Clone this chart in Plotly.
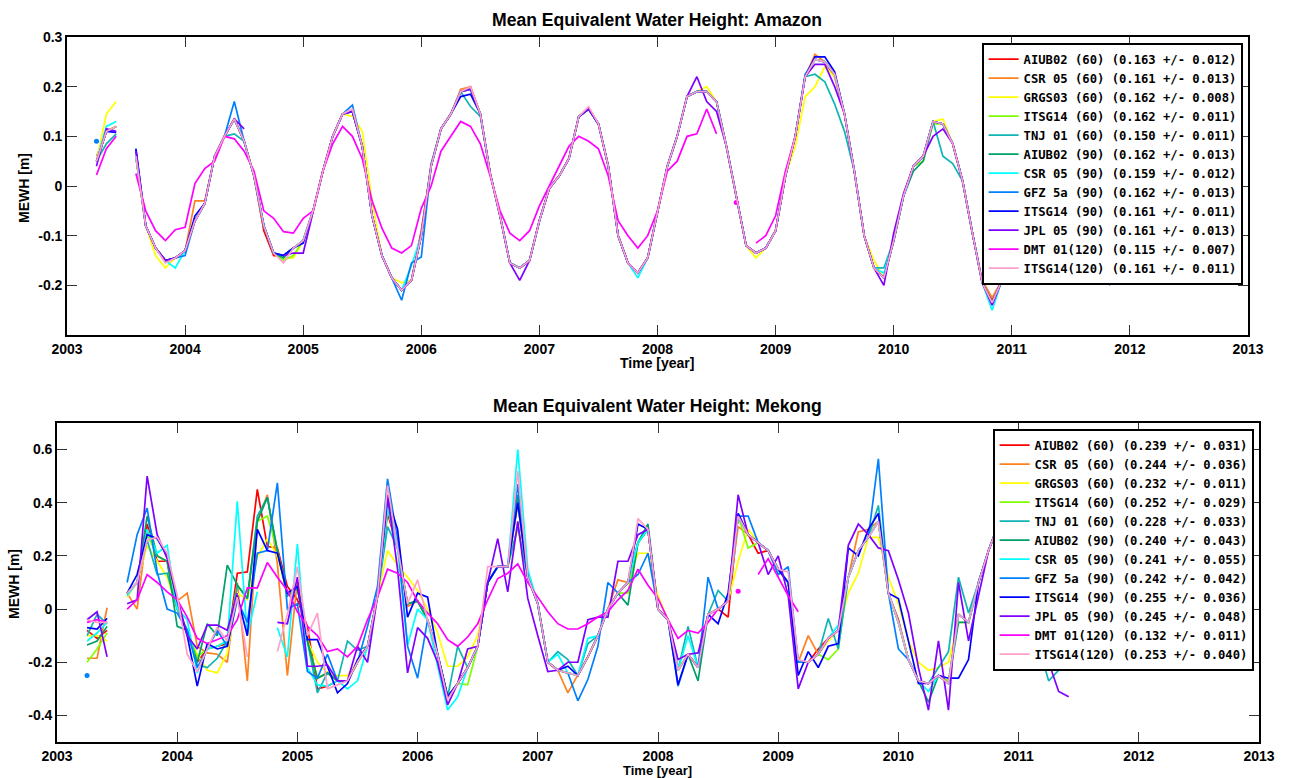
import plotly.graph_objects as go

W, H = 1290, 778

# month index counted from Jan 2003 (k=3 -> Apr 2003 ... k=106 -> Nov 2011)
months = list(range(3, 107))
years = [2003 + m / 12 for m in months]

solutions = ['AIUB02 (60)', 'CSR 05 (60)', 'GRGS03 (60)', 'ITSG14 (60)', 'TNJ 01 (60)',
             'AIUB02 (90)', 'CSR 05 (90)', 'GFZ 5a (90)', 'ITSG14 (90)', 'JPL 05 (90)',
             'DMT 01(120)', 'ITSG14(120)']
colors = ['#ff0000', '#ff8020', '#ffff00', '#80ff00', '#10b4b4', '#00a068',
          '#00ffff', '#0080ff', '#0000ff', '#8000ff', '#ff00ff', '#ffa0c8']

amazon_stats = ['(0.163 +/- 0.012)', '(0.161 +/- 0.013)', '(0.162 +/- 0.008)', '(0.162 +/- 0.011)',
                '(0.150 +/- 0.011)', '(0.162 +/- 0.013)', '(0.159 +/- 0.012)', '(0.162 +/- 0.013)',
                '(0.161 +/- 0.011)', '(0.161 +/- 0.013)', '(0.115 +/- 0.007)', '(0.161 +/- 0.011)']
mekong_stats = ['(0.239 +/- 0.031)', '(0.244 +/- 0.036)', '(0.232 +/- 0.011)', '(0.252 +/- 0.029)',
                '(0.228 +/- 0.033)', '(0.240 +/- 0.043)', '(0.241 +/- 0.055)', '(0.242 +/- 0.042)',
                '(0.255 +/- 0.036)', '(0.245 +/- 0.048)', '(0.132 +/- 0.011)', '(0.253 +/- 0.040)']

# ---------------- Amazon ----------------
amazon_common = [
    0.05, 0.11, 0.12, None, 0.06, -0.08, -0.125, -0.15, -0.145, -0.13,      # k3-12
    -0.07, -0.035, 0.06, 0.10, 0.135, 0.09, 0.02, -0.08, -0.135, -0.14,     # k13-22
    -0.125, -0.11, -0.05, 0.03, 0.10, 0.145, 0.15, 0.08, -0.06, -0.14,      # k23-32
    -0.185, -0.21, -0.19, -0.10, 0.04, 0.115, 0.145, 0.19, 0.195, 0.145,    # k33-42
    0.025, -0.06, -0.155, -0.165, -0.15, -0.07, -0.005, 0.02, 0.055, 0.14,  # k43-52
    0.155, 0.125, 0.04, -0.10, -0.155, -0.175, -0.145, -0.05, 0.04, 0.10,   # k53-62
    0.18, 0.19, 0.19, 0.17, 0.08, -0.02, -0.12, -0.135, -0.125, -0.09,      # k63-72
    0.02, 0.10, 0.22, 0.255, 0.25, 0.225, 0.145, 0.03, -0.10, -0.165,       # k73-82
    -0.185, -0.11, -0.02, 0.04, 0.06, 0.13, 0.125, 0.085, 0.01, -0.095,     # k83-92
    -0.195, -0.235, -0.19, -0.12, -0.02, 0.08, 0.17, 0.22, 0.22, 0.13,      # k93-102
    0.02, -0.10, -0.17, None,                                               # k103-106
]
amazon_own = [
    {20: -0.09, 21: -0.14, 22: -0.14, 36: -0.09, 41: 0.20, 78: 0.22, 94: -0.23},
    {3: 0.06, 13: -0.03, 14: -0.03, 40: 0.195, 41: 0.20, 76: 0.265, 93: -0.19, 94: -0.225},
    {4: 0.145, 5: 0.17, 9: -0.14, 10: -0.165, 22: -0.145, 23: -0.145, 29: 0.14, 30: 0.11,
     31: -0.03, 34: -0.195, 65: 0.20, 70: -0.145, 74: 0.08, 75: 0.18, 76: 0.20, 77: 0.24,
     78: 0.22, 82: -0.15, 89: 0.135, 105: -0.18},
    {22: -0.15, 23: -0.14, 87: 0.05, 88: 0.125},
    {4: 0.085, 5: 0.105, 17: 0.105, 41: 0.16, 42: 0.14, 76: 0.225, 77: 0.21, 78: 0.165,
     79: 0.11, 83: -0.165, 89: 0.06, 90: 0.045},
    {22: -0.145, 37: 0.045, 86: 0.03, 87: 0.05},
    {4: 0.12, 5: 0.13, 11: -0.165, 35: -0.16, 58: -0.185, 83: -0.175, 94: -0.25},
    {3: 0.09, 4: None, 5: None, 7: 0.075, 12: -0.14, 17: 0.17, 29: 0.163, 34: -0.23,
     35: -0.155, 36: -0.143, 75: 0.225},
    {4: 0.11, 5: 0.108, 7: 0.075, 13: -0.06, 24: -0.115, 40: 0.18, 41: 0.185, 64: 0.19,
     76: 0.26, 77: 0.26, 78: 0.23},
    {3: 0.04, 4: 0.115, 5: 0.11, 7: 0.07, 18: 0.115, 19: None, 20: None, 21: None,
     23: -0.135, 24: -0.135, 46: -0.19, 64: 0.22, 65: 0.17, 66: 0.15, 76: 0.245, 77: 0.245,
     78: 0.20, 83: -0.20, 84: -0.095, 85: -0.015, 88: 0.10, 89: 0.115, 94: -0.24, 106: -0.20},
    None,
    {10: -0.155, 22: -0.155, 29: 0.155, 41: 0.20, 53: 0.16},
]
amazon_dmt = [
    0.022, 0.075, 0.10, None, 0.025, -0.05, -0.09, -0.11, -0.088, -0.083,
    0.005, 0.035, 0.05, 0.10, 0.095, 0.07, 0.03, -0.05, -0.065, -0.092,
    -0.095, -0.065, -0.05, 0.03, 0.085, 0.12, 0.10, 0.055, -0.03, -0.085,
    -0.125, -0.135, -0.12, -0.045, 0.0, 0.07, 0.10, 0.13, 0.12, 0.085,
    0.02, -0.05, -0.095, -0.11, -0.09, -0.04, 0.0, 0.04, 0.08, 0.10,
    0.09, 0.075, 0.02, -0.07, -0.10, -0.125, -0.10, -0.05, 0.03, 0.05,
    0.10, 0.105, 0.155, 0.105, None, -0.033, None, -0.115, -0.10, -0.06,
    0.03, 0.10,
]

# ---------------- Mekong ----------------
mekong_common = [
    -0.10, -0.09, -0.07, None, 0.06, 0.10, 0.30, 0.20, 0.18, 0.0,           # k3-12
    -0.08, -0.20, -0.15, -0.14, -0.12, 0.09, 0.04, 0.30, 0.38, 0.22,        # k13-22
    0.05, 0.08, -0.12, -0.26, -0.24, -0.27, -0.27, -0.20, -0.14, 0.05,      # k23-32
    0.38, 0.23, 0.02, 0.03, -0.04, -0.17, -0.33, -0.28, -0.22, -0.14,       # k33-42
    0.10, 0.16, 0.16, 0.40, 0.12, 0.02, -0.20, -0.23, -0.24, -0.25,         # k43-52
    -0.18, -0.10, 0.0, 0.06, 0.10, 0.25, 0.30, 0.0, -0.04, -0.23,           # k53-62
    -0.17, -0.22, -0.02, 0.0, 0.03, 0.35, 0.28, 0.25, 0.22, 0.15,           # k63-72
    0.10, -0.20, -0.20, -0.17, -0.11, -0.08, 0.12, 0.22, 0.27, 0.33,        # k73-82
    0.06, -0.05, -0.19, -0.27, -0.28, -0.25, -0.28, -0.02, -0.05, 0.10,     # k83-92
    0.22, 0.32, 0.26, 0.12, -0.02, -0.14, -0.20, -0.23, None, None,         # k93-102
    None, None, None, None,                                                 # k103-106
]
mekong_own = [
    {3: -0.08, 4: -0.11, 5: -0.08, 9: 0.32, 10: 0.18, 17: -0.13, 18: 0.135, 19: 0.14, 20: 0.45,
     21: 0.235, 22: 0.23, 23: 0.085, 24: 0.035, 25: -0.065, 26: -0.30, 27: -0.29, 33: 0.36,
     67: -0.03, 70: 0.21, 76: -0.15, 84: -0.04},
    {3: -0.185, 4: -0.185, 5: 0.005, 8: 0.0, 12: 0.03, 13: 0.06, 14: -0.14, 15: -0.165,
     16: -0.17, 17: -0.20, 18: 0.10, 19: -0.27, 20: 0.33, 21: 0.43, 22: 0.17, 23: -0.25,
     24: 0.11, 33: 0.38, 35: 0.01, 51: -0.315, 56: 0.11, 68: 0.31, 75: -0.10, 80: 0.29, 81: 0.30},
    {3: -0.10, 4: -0.10, 5: -0.12, 7: 0.045, 9: 0.24, 10: 0.18, 11: 0.12, 14: -0.17, 15: -0.23,
     16: -0.24, 17: -0.165, 18: 0.06, 19: 0.035, 20: 0.195, 21: 0.265, 22: 0.20, 26: -0.20,
     27: -0.24, 28: -0.25, 29: -0.25, 33: 0.22, 34: 0.165, 35: 0.12, 36: 0.07, 37: 0.0,
     38: -0.09, 39: -0.215, 40: -0.215, 41: -0.18, 42: -0.10, 46: 0.30, 58: 0.21, 59: 0.21,
     60: 0.05, 68: 0.18, 69: 0.30, 77: -0.12, 79: 0.06, 80: 0.135, 82: 0.27, 83: 0.12,
     84: 0.02, 85: -0.12, 86: -0.20, 87: -0.23, 88: -0.22, 89: -0.20, 90: -0.05},
    {3: -0.20, 4: -0.15, 5: -0.09, 9: 0.28, 14: -0.18, 20: 0.33, 21: 0.35, 41: -0.285,
     57: 0.06, 69: 0.23, 77: -0.19, 78: -0.15, 89: -0.27},
    {3: -0.10, 4: -0.02, 5: -0.055, 9: 0.26, 10: 0.13, 11: 0.135, 14: -0.21, 15: -0.22,
     16: -0.185, 20: 0.35, 21: 0.42, 26: -0.315, 29: -0.12, 30: -0.155, 33: 0.31, 40: -0.14,
     46: 0.31, 50: -0.16, 51: -0.19, 53: -0.13, 63: -0.065, 66: 0.07, 77: -0.035, 78: -0.15,
     82: 0.39, 88: -0.22, 89: -0.16, 90: 0.12, 91: -0.015, 99: -0.27},
    {3: -0.135, 4: -0.12, 5: -0.065, 9: 0.35, 10: 0.20, 12: -0.065, 15: -0.055, 16: -0.10,
     17: 0.165, 20: 0.33, 21: 0.42, 33: 0.41, 46: 0.43, 57: 0.015, 59: 0.32, 64: -0.27,
     87: -0.35, 90: -0.05},
    {3: -0.12, 4: -0.09, 5: -0.05, 7: 0.05, 10: 0.21, 11: 0.24, 13: -0.04, 14: -0.24,
     18: 0.405, 19: -0.10, 20: 0.065, 21: None, 22: -0.07, 23: -0.18, 24: 0.245, 25: -0.22,
     26: -0.285, 27: -0.29, 29: -0.30, 30: -0.27, 35: -0.135, 36: 0.0, 38: -0.215, 39: -0.38,
     40: -0.33, 46: 0.60, 47: 0.15, 50: -0.17, 53: -0.11, 63: -0.10, 78: -0.06, 87: -0.31},
    {3: -0.25, 4: None, 5: None, 7: 0.10, 8: 0.28, 9: 0.38, 10: 0.14, 11: 0.0, 12: -0.015,
     14: -0.22, 16: -0.08, 17: -0.14, 18: 0.035, 19: -0.05, 20: 0.21, 21: 0.22, 22: 0.475,
     23: 0.0, 24: 0.02, 25: -0.235, 27: -0.17, 31: -0.065, 32: 0.085, 33: 0.49, 34: 0.26,
     35: -0.14, 36: -0.26, 37: -0.04, 46: 0.47, 52: -0.345, 53: -0.265, 54: -0.14, 55: 0.10,
     58: 0.13, 59: 0.21, 62: -0.29, 65: 0.12, 68: 0.35, 69: 0.35, 72: 0.13, 73: 0.16,
     82: 0.565, 84: -0.15, 85: -0.19},
    {3: -0.07, 4: -0.075, 5: -0.035, 7: 0.06, 8: 0.13, 9: 0.28, 10: 0.265, 11: 0.20, 12: 0.03,
     13: -0.10, 14: -0.29, 15: -0.13, 16: -0.15, 17: -0.14, 18: 0.05, 19: -0.10, 20: 0.30,
     21: 0.22, 22: 0.21, 23: 0.06, 24: 0.085, 25: -0.115, 26: -0.115, 27: -0.215, 28: -0.315,
     29: -0.28, 30: -0.19, 33: 0.42, 34: 0.30, 35: -0.03, 36: 0.06, 37: 0.045, 51: -0.215,
     52: -0.25, 58: 0.32, 62: -0.285, 66: -0.055, 67: 0.06, 68: 0.36, 74: -0.25, 75: -0.16,
     76: -0.22, 77: -0.14, 78: -0.13, 79: 0.23, 80: 0.20, 81: 0.30, 82: 0.36, 83: 0.06,
     84: 0.04, 85: -0.12, 86: -0.28, 88: -0.25, 89: -0.26, 90: -0.26, 91: -0.19},
    {3: -0.04, 4: -0.01, 5: -0.18, 7: 0.02, 8: 0.035, 9: 0.50, 10: 0.28, 11: 0.19, 12: 0.05,
     13: -0.10, 14: -0.15, 15: -0.06, 16: -0.06, 17: -0.08, 18: 0.06, 19: None, 20: None,
     21: None, 22: -0.05, 23: -0.055, 24: 0.12, 25: -0.215, 26: -0.215, 27: -0.21, 28: -0.27,
     30: -0.14, 31: -0.20, 33: 0.43, 34: 0.15, 35: -0.24, 36: -0.07, 37: -0.11, 38: -0.20,
     39: -0.36, 41: -0.15, 44: 0.265, 45: 0.065, 46: 0.33, 47: 0.04, 48: -0.10, 49: -0.235,
     51: -0.20, 52: -0.20, 53: -0.04, 54: -0.03, 55: -0.03, 56: 0.18, 57: 0.18, 58: 0.28,
     59: 0.30, 62: -0.19, 64: -0.165, 68: 0.43, 71: 0.13, 72: 0.20, 73: 0.05, 74: -0.30,
     79: 0.24, 80: 0.32, 81: 0.28, 82: 0.23, 83: 0.22, 84: 0.11, 85: -0.015, 86: -0.22,
     87: -0.38, 88: -0.12, 89: -0.38, 90: 0.10, 91: -0.12, 92: 0.05, 100: -0.31, 101: -0.33},
    None,
    {3: -0.04, 4: -0.05, 5: -0.05, 9: 0.26, 10: 0.27, 11: 0.21, 12: 0.05, 13: -0.17,
     14: -0.235, 15: -0.15, 16: -0.07, 17: -0.12, 18: 0.045, 19: -0.18, 20: None, 21: None,
     22: -0.16, 23: -0.02, 24: 0.16, 25: -0.10, 26: -0.015, 27: -0.30, 28: -0.285, 33: 0.465,
     36: 0.11, 39: -0.34, 43: 0.16, 46: 0.52, 58: 0.34, 73: 0.14, 74: -0.19},
]
mekong_dmt = [
    -0.05, -0.04, -0.05, None, 0.0, 0.035, 0.13, 0.10, 0.065, 0.035,
    -0.03, -0.11, -0.13, -0.115, -0.10, -0.04, 0.08, 0.08, 0.175, 0.12,
    0.07, -0.01, -0.065, -0.10, -0.16, -0.15, -0.18, -0.14, -0.04, 0.045,
    0.15, 0.135, 0.10, 0.03, -0.015, -0.055, -0.115, -0.14, -0.105, -0.055,
    0.035, 0.115, 0.135, 0.17, 0.10, 0.045, -0.01, -0.055, -0.075, -0.075,
    -0.055, -0.03, -0.01, 0.035, 0.07, 0.15, 0.09, 0.04, -0.04, -0.11,
    -0.08, -0.09, -0.05, 0.0, None, 0.067, None, 0.13, 0.19, 0.12,
    0.05, -0.01,
]


def build(common, own, dmt):
    out = []
    for i, ov in enumerate(own):
        if ov is None:
            vals = list(dmt) + [None] * (len(months) - len(dmt))
        else:
            vals = list(common)
            for k, v in ov.items():
                vals[months.index(k)] = v
        out.append(vals)
    return out


amazon_series = build(amazon_common, amazon_own, amazon_dmt)
mekong_series = build(mekong_common, mekong_own, mekong_dmt)

fig = go.Figure()


def add_panel(series, stats, xa, ya, legend):
    for i, vals in enumerate(series):
        fig.add_trace(go.Scatter(
            x=years, y=vals, mode='lines', name=solutions[i] + ' ' + stats[i],
            line=dict(color=colors[i], width=1.7), xaxis=xa, yaxis=ya,
            legend=legend, legendgroup=legend + str(i), connectgaps=False,
        ))
        # isolated months (no neighbours) are drawn as dots
        iso_x, iso_y = [], []
        for j, v in enumerate(vals):
            if v is None:
                continue
            prev_ = vals[j - 1] if j > 0 else None
            next_ = vals[j + 1] if j < len(vals) - 1 else None
            if prev_ is None and next_ is None:
                iso_x.append(years[j])
                iso_y.append(v)
        if iso_x:
            fig.add_trace(go.Scatter(
                x=iso_x, y=iso_y, mode='markers', marker=dict(color=colors[i], size=5),
                xaxis=xa, yaxis=ya, showlegend=False, legend=legend,
                legendgroup=legend + str(i), hoverinfo='skip',
            ))


add_panel(amazon_series, amazon_stats, 'x', 'y', 'legend')
add_panel(mekong_series, mekong_stats, 'x2', 'y2', 'legend2')

year_ticks = list(range(2003, 2014))
tick_font = dict(family='Liberation Sans, Arial, sans-serif', size=14, color='black', weight='bold')
axis_common = dict(showline=True, linecolor='black', linewidth=1.6, mirror='allticks',
                   ticks='inside', ticklen=10, tickwidth=1, tickcolor='#333333',
                   showgrid=False, zeroline=False, tickfont=tick_font, automargin=False)

legend_font = dict(family='DejaVu Sans Mono', size=12.2, color='black', weight='bold')

fig.update_layout(
    width=W, height=H,
    margin=dict(l=0, r=0, t=0, b=0, autoexpand=False),
    paper_bgcolor='white', plot_bgcolor='white',
    showlegend=True,
    xaxis=dict(domain=[67 / W, 1248 / W], range=[2003, 2013], anchor='y',
               tickvals=year_ticks, ticktext=[str(t) for t in year_ticks], **axis_common),
    yaxis=dict(domain=[1 - 335 / H, 1 - 37 / H], range=[-0.3, 0.3], anchor='x',
               tickvals=[-0.3, -0.2, -0.1, 0, 0.1, 0.2, 0.3],
               ticktext=['', '-0.2', '-0.1', '0', '0.1', '0.2', '0.3'], **axis_common),
    xaxis2=dict(domain=[57 / W, 1259 / W], range=[2003, 2013], anchor='y2',
                tickvals=year_ticks, ticktext=[str(t) for t in year_ticks], **axis_common),
    yaxis2=dict(domain=[1 - 742 / H, 1 - 423 / H], range=[-0.5, 0.7], anchor='x2',
                tickvals=[-0.4, -0.2, 0, 0.2, 0.4, 0.6],
                ticktext=['-0.4', '-0.2', '0', '0.2', '0.4', '0.6'], **axis_common),
    legend=dict(x=1243 / W, xanchor='right', y=1 - 43 / H, yanchor='top',
                bgcolor='white', bordercolor='black', borderwidth=1.6,
                font=legend_font, tracegroupgap=0, traceorder='normal'),
    legend2=dict(x=1254 / W, xanchor='right', y=1 - 429 / H, yanchor='top',
                 bgcolor='white', bordercolor='black', borderwidth=1.6,
                 font=legend_font, tracegroupgap=0, traceorder='normal'),
)

title_font = dict(family='Liberation Sans, Arial, sans-serif', size=17.6, color='black', weight='bold')
label_font = dict(family='Liberation Sans, Arial, sans-serif', size=14, color='black', weight='bold')
small_label_font = dict(family='Liberation Sans, Arial, sans-serif', size=13, color='black', weight='bold')
annotations = [
    dict(text='Mean Equivalent Water Height: Amazon', x=657 / W, y=1 - 20 / H, font=title_font),
    dict(text='Mean Equivalent Water Height: Mekong', x=657 / W, y=1 - 406 / H, font=title_font),
    dict(text='Time [year]', x=657 / W, y=1 - 363 / H, font=label_font),
    dict(text='Time [year]', x=657 / W, y=1 - 770.5 / H, font=small_label_font),
    dict(text='MEWH [m]', x=24 / W, y=1 - 188 / H, font=label_font, textangle=-90),
    dict(text='MEWH [m]', x=14 / W, y=1 - 584 / H, font=label_font, textangle=-90),
]
for a in annotations:
    fig.add_annotation(xref='paper', yref='paper', xanchor='center', yanchor='middle',
                       showarrow=False, **a)

fig.write_html('out.html')
